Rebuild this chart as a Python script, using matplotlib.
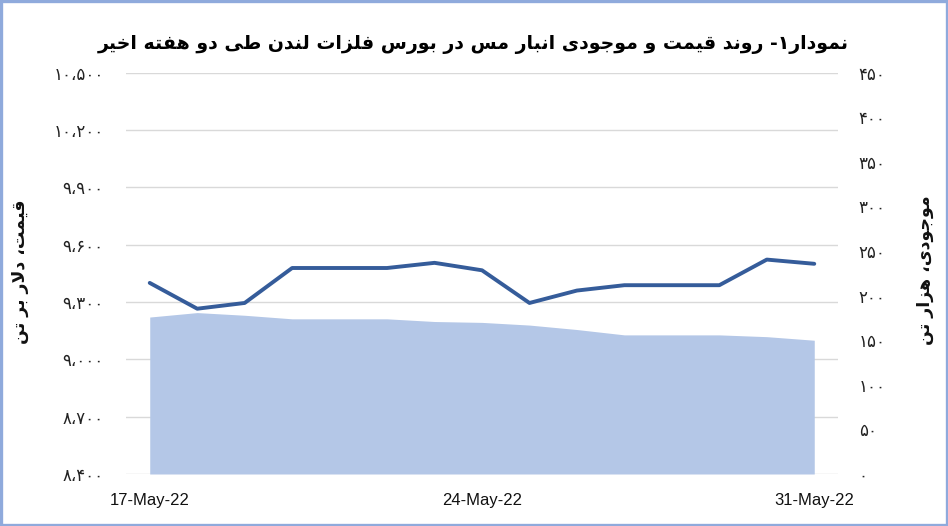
import matplotlib
matplotlib.use("Agg")
import matplotlib.pyplot as plt
from matplotlib.patches import Rectangle
import numpy as np

# ---------------- data ----------------
dates = ["17-May-22", "18-May-22", "19-May-22", "20-May-22", "21-May-22",
         "22-May-22", "23-May-22", "24-May-22", "25-May-22", "26-May-22",
         "27-May-22", "28-May-22", "29-May-22", "30-May-22", "31-May-22"]
price = [9400, 9265, 9295, 9478, 9478, 9478, 9505, 9466, 9295, 9360,
         9388, 9388, 9388, 9522, 9500]
inventory = [176, 181, 178, 174, 174, 174, 171, 170, 167, 162,
             156, 156, 156, 154, 150]
xtick_dates = ["17-May-22", "24-May-22", "31-May-22"]
price_ticks = [8400, 8700, 9000, 9300, 9600, 9900, 10200, 10500]
inv_ticks = [0, 50, 100, 150, 200, 250, 300, 350, 400, 450]

title_text = "نمودار۱- روند قیمت و موجودی انبار مس در بورس فلزات لندن طی دو هفته اخیر"
left_label = "قیمت، دلار بر تن"
right_label = "موجودی، هزار تن"

# ---------------- simple Arabic/Persian shaping ----------------
# letter: (isolated, final, initial, medial) ; None for non-forward-joining
FORMS = {
    'ا': (0xFE8D, 0xFE8E, None, None),
    'ب': (0xFE8F, 0xFE90, 0xFE91, 0xFE92),
    'ت': (0xFE95, 0xFE96, 0xFE97, 0xFE98),
    'ج': (0xFE9D, 0xFE9E, 0xFE9F, 0xFEA0),
    'خ': (0xFEA5, 0xFEA6, 0xFEA7, 0xFEA8),
    'د': (0xFEA9, 0xFEAA, None, None),
    'ر': (0xFEAD, 0xFEAE, None, None),
    'ز': (0xFEAF, 0xFEB0, None, None),
    'س': (0xFEB1, 0xFEB2, 0xFEB3, 0xFEB4),
    'ط': (0xFEC1, 0xFEC2, 0xFEC3, 0xFEC4),
    'ف': (0xFED1, 0xFED2, 0xFED3, 0xFED4),
    'ق': (0xFED5, 0xFED6, 0xFED7, 0xFED8),
    'ل': (0xFEDD, 0xFEDE, 0xFEDF, 0xFEE0),
    'م': (0xFEE1, 0xFEE2, 0xFEE3, 0xFEE4),
    'ن': (0xFEE5, 0xFEE6, 0xFEE7, 0xFEE8),
    'ه': (0xFEE9, 0xFEEA, 0xFEEB, 0xFEEC),
    'و': (0xFEED, 0xFEEE, None, None),
    'ی': (0xFBFC, 0xFBFD, 0xFBFE, 0xFBFF),
}


def dual(c):
    return c in FORMS and FORMS[c][2] is not None


def shape(text):
    out = []
    chars = list(text)
    i = 0
    n = len(chars)
    while i < n:
        c = chars[i]
        if c not in FORMS:
            out.append(c)
            i += 1
            continue
        prev = chars[i - 1] if i > 0 else None
        join_prev = prev is not None and dual(prev)
        nxt = chars[i + 1] if i + 1 < n else None
        if c == 'ل' and nxt == 'ا':
            out.append(chr(0xFEFC if join_prev else 0xFEFB))
            i += 2
            continue
        join_next = dual(c) and nxt is not None and nxt in FORMS
        iso, fin, ini, med = FORMS[c]
        if join_prev and join_next:
            code = med
        elif join_prev:
            code = fin
        elif join_next:
            code = ini
        else:
            code = iso
        out.append(chr(code))
        i += 1
    return ''.join(reversed(out))


def fa_num(v):
    s = f"{v:,}"
    return s.translate(str.maketrans("0123456789,", "۰۱۲۳۴۵۶۷۸۹،"))


# ---------------- figure ----------------
W, H = 948, 526
fig = plt.figure(figsize=(W / 100, H / 100), dpi=100)
fig.patch.set_facecolor("white")

x = np.arange(len(dates))
rect = [126 / W, (H - 474) / H, (838 - 126) / W, (474 - 72.7) / H]

ax_inv = fig.add_axes(rect)
ax_price = ax_inv.twinx()

p_lo, p_hi = price_ticks[0], price_ticks[-1]
i_lo, i_hi = inv_ticks[0], inv_ticks[-1]

# inventory area (bottom layer)
ax_inv.fill_between(x, 0, inventory, color="#B4C7E7", linewidth=0, zorder=2)
ax_inv.set_ylim(i_lo, i_hi)
ax_inv.set_yticks(inv_ticks)
ax_inv.set_yticklabels([fa_num(v) for v in inv_ticks])
ax_inv.yaxis.tick_right()
# gridlines follow the primary (price) axis ticks; drawn under the area
grid_pos = [(p - p_lo) / (p_hi - p_lo) * (i_hi - i_lo) + i_lo for p in price_ticks]
ax_inv.yaxis.remove_overlapping_locs = False
ax_inv.set_yticks(grid_pos, minor=True)
ax_inv.tick_params(axis="y", which="minor", length=0, labelright=False, labelleft=False)
ax_inv.grid(axis="y", which="minor", color="#D9D9D9", linewidth=1.0, zorder=0)
ax_inv.grid(axis="y", which="major", visible=False)
ax_inv.set_axisbelow(True)

# price line (top layer)
ax_price.plot(x, price, color="#355C9A", linewidth=2.8, solid_joinstyle="round",
              solid_capstyle="round", zorder=3)
ax_price.set_ylim(p_lo, p_hi)
ax_price.set_yticks(price_ticks)
ax_price.set_yticklabels([fa_num(v) for v in price_ticks])
ax_price.yaxis.tick_left()

for a in (ax_inv, ax_price):
    a.set_xlim(-0.5, len(dates) - 0.5)
    for s in a.spines.values():
        s.set_visible(False)
    a.tick_params(length=0)

ax_inv.set_xticks([dates.index(d) for d in xtick_dates])
ax_inv.set_xticklabels(xtick_dates, fontsize=12, family="Liberation Sans", color="#111111")
ax_inv.tick_params(axis="x", pad=14)
ax_price.tick_params(axis="x", bottom=False, labelbottom=False)

ax_price.tick_params(axis="y", pad=16, labelsize=12, labelcolor="#222222")
ax_inv.tick_params(axis="y", which="major", pad=15, labelsize=12, labelcolor="#222222")
for lab in ax_price.get_yticklabels() + ax_inv.get_yticklabels():
    lab.set_family("DejaVu Sans")

# axis titles
fig.text(20 / W, 1 - 272 / H, shape(left_label), rotation=90, ha="center", va="center",
         fontsize=12.5, fontweight="bold", family="DejaVu Sans", color="#111111")
fig.text(925 / W, 1 - 270 / H, shape(right_label), rotation=90, ha="center", va="center",
         fontsize=12.5, fontweight="bold", family="DejaVu Sans", color="#111111")

# title
fig.text(473 / W, 1 - 44 / H, shape(title_text), ha="center", va="center",
         fontsize=13.6, fontweight="bold", family="DejaVu Sans", color="#000000")

# outer border
fig.patches.append(Rectangle((0.0015, 0.0025), 0.997, 0.995, transform=fig.transFigure,
                             fill=False, edgecolor="#8FAADC", linewidth=2.4))

fig.savefig("out.png", dpi=100, facecolor="white")
